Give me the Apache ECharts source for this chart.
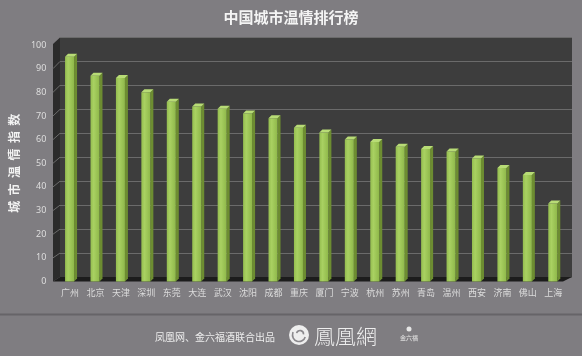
<!DOCTYPE html>
<html>
<head>
<meta charset="utf-8">
<script src="https://cdn.jsdelivr.net/npm/echarts@6/dist/echarts.min.js"></script>
<style>
html,body{margin:0;padding:0;background:#7f7d81;}
#c{width:582px;height:356px;}
</style>
</head>
<body>
<div id="c"></div>
<script>
const titleText = '中国城市温情排行榜';
const yAxisTitle = '城  市  温  情  指  数';
const cities = ['广州','北京','天津','深圳','东莞','大连','武汉','沈阳','成都','重庆','厦门','宁波','杭州','苏州','青岛','温州','西安','济南','佛山','上海'];
const scores = [95,87,86,80,76,74,73,71,69,65,63,60,59,57,56,55,52,48,45,33];
const footerText = '凤凰网、金六福酒联合出品';
const logoText = '鳳凰網';
const sponsorText = '金六福';

const FONT = '"Noto Sans CJK SC", "Noto Sans", sans-serif';
const chart = echarts.init(document.getElementById('c'));

function renderBar(params, api) {
  const i = api.value(0), v = api.value(1);
  const top = api.coord([i, v]);
  const base = api.coord([i, 0]);
  const c = top[0] - 0.5;
  const hw = 4.5, d = 3;
  const xl = c - hw, xr = c + hw;
  return {
    type: 'group',
    children: [
      { type: 'polygon', shape: { points: [[xr, top[1]], [xr + d, top[1] - d], [xr + d, base[1] - d], [xr, base[1]]] },
        style: { fill: '#6d8d31' } },
      { type: 'rect', shape: { x: xl, y: top[1], width: xr - xl, height: base[1] - top[1] },
        style: { fill: new echarts.graphic.LinearGradient(0, 0, 1, 0, [
          { offset: 0, color: '#94bd4f' }, { offset: 0.35, color: '#a9d162' }, { offset: 1, color: '#8fb84a' }]) } },
      { type: 'polygon', shape: { points: [[xl, top[1]], [xl + d, top[1] - d], [xr + d, top[1] - d], [xr, top[1]]] },
        style: { fill: '#b8dc76' } }
    ]
  };
}

const option = {
  backgroundColor: '#7f7d81',
  animation: false,
  title: {
    text: titleText, left: 'center', top: 5,
    textStyle: { fontSize: 15, fontWeight: 'bold', color: '#f4f4f4', fontFamily: FONT }
  },
  grid: [
    { left: 60, right: 10, top: 37.5, bottom: 79, show: true, backgroundColor: '#3d3d3d', borderWidth: 0, z: 0 },
    { left: 56, right: 16, top: 45, bottom: 74.5 }
  ],
  xAxis: [
    { gridIndex: 0, type: 'category', data: cities, show: false },
    { gridIndex: 1, type: 'category', data: cities,
      axisLine: { show: false }, axisTick: { show: false },
      axisLabel: { color: '#dcdcdc', fontSize: 9, margin: 7, interval: 0, fontFamily: FONT } }
  ],
  yAxis: [
    { gridIndex: 0, type: 'value', min: 0, max: 100, interval: 10,
      axisLabel: { show: false }, axisLine: { show: false }, axisTick: { show: false },
      splitLine: { lineStyle: { color: '#6b6b6b', width: 1 } } },
    { gridIndex: 1, type: 'value', min: 0, max: 100, interval: 10,
      name: yAxisTitle, nameLocation: 'middle', nameRotate: 90, nameGap: 35,
      nameTextStyle: { fontSize: 12, fontWeight: 'bold', color: '#f2f2f2', fontFamily: FONT },
      axisLine: { show: false }, axisTick: { show: false }, splitLine: { show: false },
      axisLabel: { color: '#dedede', fontSize: 9, margin: 11, fontFamily: 'Noto Sans, sans-serif' } }
  ],
  series: [{
    type: 'custom', xAxisIndex: 1, yAxisIndex: 1, z: 5,
    renderItem: renderBar,
    data: scores.map((v, i) => [i, v])
  }],
  graphic: []
};
chart.setOption(option);

// decorative 3D walls built from the axes' pixel positions
const backTop = chart.convertToPixel({ xAxisIndex: 0, yAxisIndex: 0 }, [0, 100]);
const backBot = chart.convertToPixel({ xAxisIndex: 0, yAxisIndex: 0 }, [0, 0]);
const frontTop = chart.convertToPixel({ xAxisIndex: 1, yAxisIndex: 1 }, [0, 100]);
const frontBot = chart.convertToPixel({ xAxisIndex: 1, yAxisIndex: 1 }, [0, 0]);
const bL = 60, bR = 572, fL = 53, fR = 563;
const g = [
  { type: 'polygon', z: 1, shape: { points: [[fL, frontTop[1] - 1], [bL, backTop[1]], [bL, backBot[1]], [fL, frontBot[1]]] }, style: { fill: '#2b2b2b' } },
  { type: 'polygon', z: 1, shape: { points: [[fL, frontBot[1]], [fR, frontBot[1]], [bR, backBot[1]], [bL, backBot[1]]] }, style: { fill: '#1c1c1c' } }
];
for (let t = 10; t <= 90; t += 10) {
  const b = chart.convertToPixel({ xAxisIndex: 0, yAxisIndex: 0 }, [0, t]);
  const f = chart.convertToPixel({ xAxisIndex: 1, yAxisIndex: 1 }, [0, t]);
  g.push({ type: 'line', z: 2, shape: { x1: bL, y1: b[1], x2: fL, y2: f[1] }, style: { stroke: '#6b6b6b', lineWidth: 1 } });
}
// footer
g.push({ type: 'rect', z: 1, shape: { x: 0, y: 313.5, width: 582, height: 2 }, style: { fill: '#666468' } });
g.push({ type: 'text', z: 3, style: { x: 155, y: 337, text: footerText, fill: '#ededed', fontSize: 10, fontFamily: FONT, verticalAlign: 'middle' } });
g.push({ type: 'circle', z: 3, shape: { cx: 299, cy: 335, r: 10 }, style: { fill: '#eeeeee' } });
g.push({ type: 'arc', z: 4, shape: { cx: 299, cy: 335, r: 6.5, startAngle: 0.3, endAngle: 3.6 }, style: { stroke: '#8a888c', lineWidth: 1.6, fill: null } });
g.push({ type: 'arc', z: 4, shape: { cx: 300, cy: 334, r: 3.5, startAngle: 3.4, endAngle: 6.4 }, style: { stroke: '#8a888c', lineWidth: 1.6, fill: null } });
g.push({ type: 'text', z: 3, style: { x: 314, y: 336, text: logoText, fill: '#eeeeee', fontSize: 21, fontFamily: '"Noto Sans CJK TC", sans-serif', fontWeight: 300, verticalAlign: 'middle' } });
g.push({ type: 'circle', z: 3, shape: { cx: 409, cy: 329, r: 2.5 }, style: { fill: '#e6e6e6' } });
g.push({ type: 'text', z: 3, style: { x: 409, y: 338, text: sponsorText, fill: '#e6e6e6', fontSize: 6, fontFamily: FONT, align: 'center', verticalAlign: 'middle' } });
chart.setOption({ graphic: g });
</script>
</body>
</html>
